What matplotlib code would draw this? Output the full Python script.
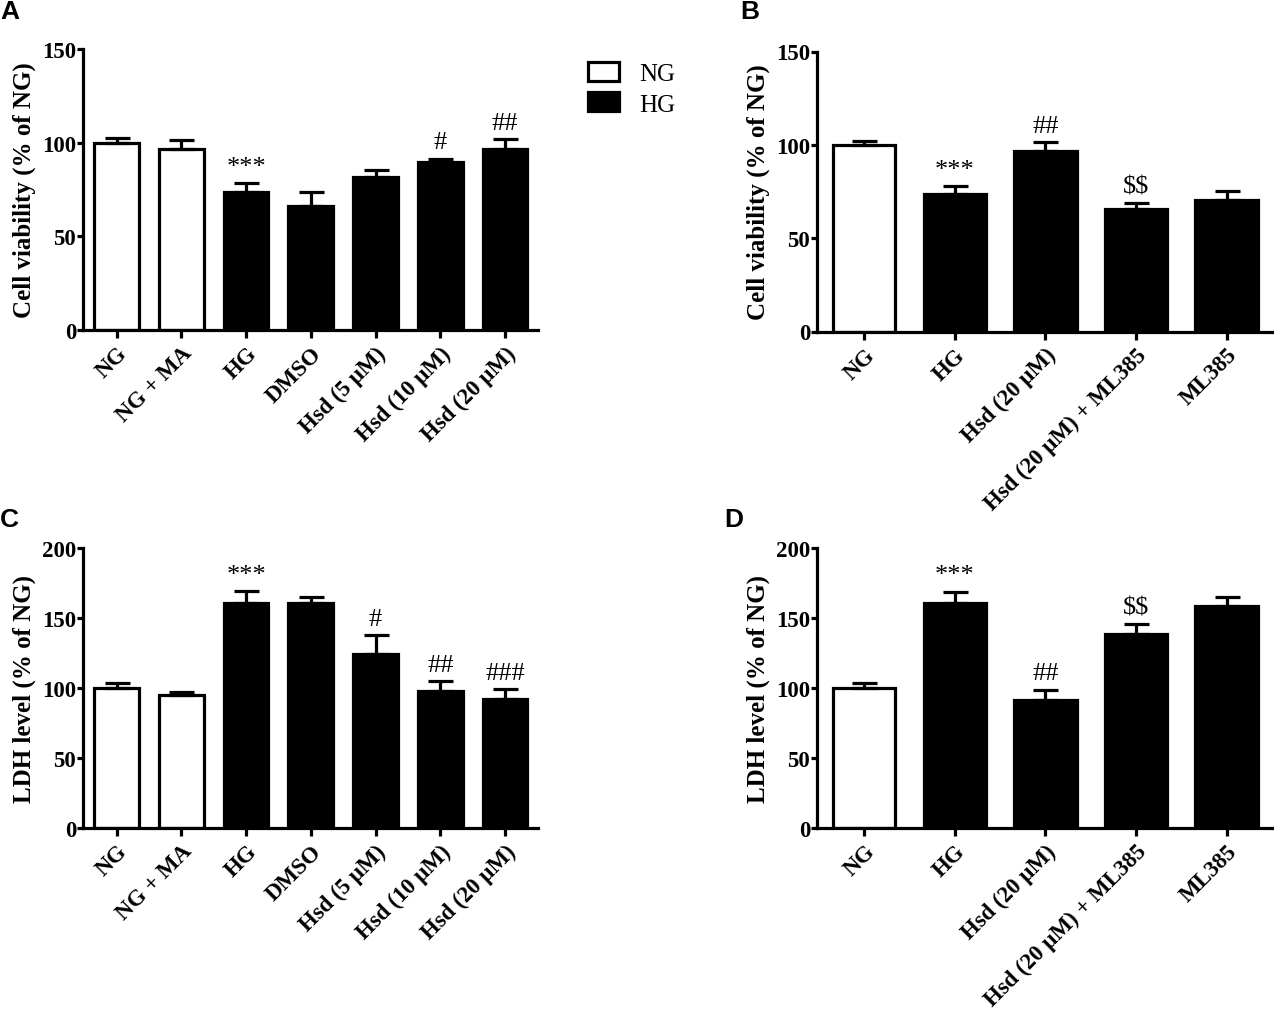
import numpy as np
import matplotlib
matplotlib.use("Agg")
import matplotlib.pyplot as plt
from matplotlib.patches import Patch

plt.rcParams['font.family'] = ['Liberation Serif', 'DejaVu Serif']
plt.rcParams['text.parse_math'] = False

## datos

# panel A: viabilidad celular
cat_a = ["NG", "NG + MA", "HG", "DMSO", "Hsd (5 μM)", "Hsd (10 μM)", "Hsd (20 μM)"]
val_a = [100.0, 96.8, 73.8, 66.1, 81.6, 89.6, 96.7]
err_a = [2.4, 4.4, 4.5, 7.3, 4.0, 1.7, 5.0]
sig_a = ["", "", "***", "", "", "#", "##"]
grp_a = ["NG", "NG", "HG", "HG", "HG", "HG", "HG"]

# panel B: viabilidad celular con ML385
cat_b = ["NG", "HG", "Hsd (20 μM)", "Hsd (20 μM) + ML385", "ML385"]
val_b = [100.0, 73.7, 96.6, 65.7, 70.5]
err_b = [2.3, 4.1, 4.8, 3.2, 4.8]
sig_b = ["", "***", "##", "$$", ""]
grp_b = ["NG", "HG", "HG", "HG", "HG"]

# panel C: LDH
cat_c = cat_a
val_c = [100.3, 95.2, 161.0, 160.4, 124.0, 97.6, 91.9]
err_c = [3.4, 1.9, 8.0, 4.8, 13.6, 7.2, 7.1]
sig_c = ["", "", "***", "", "#", "##", "###"]
grp_c = grp_a

# panel D: LDH con ML385
cat_d = cat_b
val_d = [100.2, 160.6, 91.7, 138.7, 158.4]
err_d = [3.4, 8.0, 7.1, 6.7, 6.4]
sig_d = ["", "***", "##", "$$", ""]
grp_d = grp_b

ylabel_ab = "Cell viability (% of NG)"
ylabel_cd = "LDH level (% of NG)"

fig = plt.figure(figsize=(12.74, 10.12), dpi=100)

W, H = 1274.0, 1012.0
pos_a = [83 / W, 1 - 331 / H, 455 / W, 281 / H]
pos_b = [817 / W, 1 - 332.5 / H, 456 / W, 280 / H]
pos_c = [83 / W, 1 - 829 / H, 455 / W, 280 / H]
pos_d = [817 / W, 1 - 829 / H, 456 / W, 280 / H]

lw = 2.3


def panel(pos, cats, vals, errs, sigs, grps, ymax, ystep, ylabel):
    ax = fig.add_axes(pos)
    x = np.arange(len(cats))
    colores = ["white" if g == "NG" else "black" for g in grps]
    ax.bar(x, vals, width=0.69, color=colores, edgecolor="black", linewidth=lw, zorder=2)
    ax.errorbar(x, vals, yerr=[np.zeros(len(errs)), errs], fmt="none", ecolor="black",
                elinewidth=lw, capsize=9, capthick=lw, zorder=3)
    for xi, v, e, s in zip(x, vals, errs, sigs):
        if s:
            ax.annotate(s, (xi, v + e), xytext=(0, 4), textcoords="offset points",
                        ha="center", va="bottom", fontsize=19)
    ax.set_xlim(-0.52, len(cats) - 0.49)
    ax.set_ylim(0, ymax)
    ax.set_yticks(np.arange(0, ymax + 1, ystep))
    ax.set_xticks(x)
    ax.set_xticklabels(cats, rotation=45, ha="right", rotation_mode="anchor",
                       fontsize=16.5, fontweight="bold")
    for t in ax.get_yticklabels():
        t.set_fontsize(16.5)
        t.set_fontweight("bold")
    ax.spines["top"].set_visible(False)
    ax.spines["right"].set_visible(False)
    ax.spines["left"].set_linewidth(lw)
    ax.spines["bottom"].set_linewidth(lw)
    ax.tick_params(axis="y", length=4, width=lw, pad=1)
    ax.tick_params(axis="x", length=6, width=lw, pad=3)
    ax.set_ylabel(ylabel, fontsize=18, fontweight="bold", labelpad=4)
    return ax


panel(pos_a, cat_a, val_a, err_a, sig_a, grp_a, 150, 50, ylabel_ab)
panel(pos_b, cat_b, val_b, err_b, sig_b, grp_b, 150, 50, ylabel_ab)
panel(pos_c, cat_c, val_c, err_c, sig_c, grp_c, 200, 50, ylabel_cd)
panel(pos_d, cat_d, val_d, err_d, sig_d, grp_d, 200, 50, ylabel_cd)

## letras de los paneles
for letra, xx, yy in [("A", 0, 0), ("B", 740, 0), ("C", 0, 508), ("D", 724, 508)]:
    fig.text(xx / W, 1 - yy / H, letra, fontsize=19, fontweight="bold",
             family="Liberation Sans", ha="left", va="top")

## leyenda
handles = [Patch(facecolor="white", edgecolor="black", linewidth=lw),
           Patch(facecolor="black", edgecolor="black", linewidth=lw)]
fig.legend(handles, ["NG", "HG"], loc="upper left", bbox_to_anchor=(565 / W, 1 - 40 / H),
           frameon=False, fontsize=18, handlelength=1.25, handleheight=0.8,
           labelspacing=0.3, handletextpad=0.8)

plt.savefig("out.png", dpi=100)
plt.close()
